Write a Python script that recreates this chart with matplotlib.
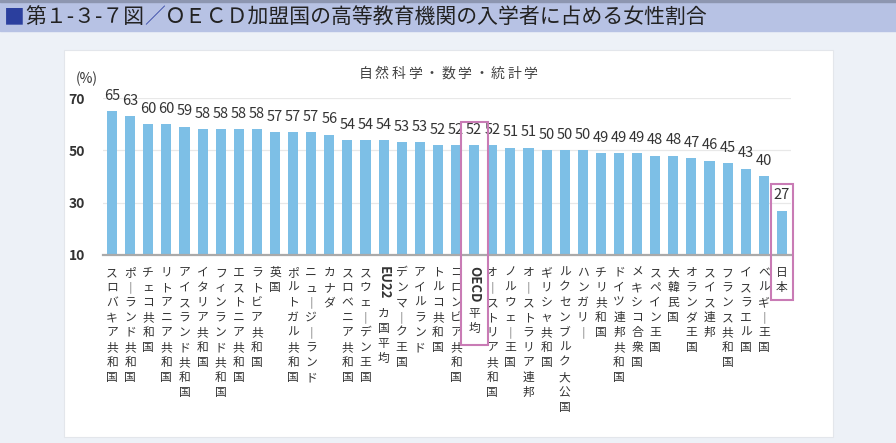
"""OECD加盟国の高等教育機関の入学者に占める女性割合（自然科学・数学・統計学）."""
import numpy as np
import matplotlib
matplotlib.use('Agg')
import matplotlib.pyplot as plt
from matplotlib.patches import Rectangle

plt.rcParams['font.family'] = ['Noto Sans CJK JP', 'DejaVu Sans']

countries = ['スロバキア共和国', 'ポーランド共和国', 'チェコ共和国', 'リトアニア共和国',
             'アイスランド共和国', 'イタリア共和国', 'フィンランド共和国', 'エストニア共和国',
             'ラトビア共和国', '英国', 'ポルトガル共和国', 'ニュージーランド', 'カナダ',
             'スロベニア共和国', 'スウェーデン王国', 'EU22カ国平均', 'デンマーク王国',
             'アイルランド', 'トルコ共和国', 'コロンビア共和国', 'OECD平均',
             'オーストリア共和国', 'ノルウェー王国', 'オーストラリア連邦', 'ギリシャ共和国',
             'ルクセンブルク大公国', 'ハンガリー', 'チリ共和国', 'ドイツ連邦共和国',
             'メキシコ合衆国', 'スペイン王国', '大韓民国', 'オランダ王国', 'スイス連邦',
             'フランス共和国', 'イスラエル国', 'ベルギー王国', '日本']
values = [65, 63, 60, 60, 59, 58, 58, 58, 58, 57, 57, 57, 56, 54, 54, 54, 53, 53, 52,
          52, 52, 52, 51, 51, 50, 50, 50, 49, 49, 49, 48, 48, 47, 46, 45, 43, 40, 27]
highlight = ['OECD平均', '日本']
yticks = [10, 30, 50, 70]

TITLE = '第１-３-７図'
TITLE_REST = 'ＯＥＣＤ加盟国の高等教育機関の入学者に占める女性割合'
SUBTITLE = '自然科学・数学・統計学'

W, H = 896, 443
BAR_COLOR = '#7dbfe6'
PINK = '#c97bb5'
TEXT = '#333333'

fig = plt.figure(figsize=(W / 100, H / 100), dpi=100)
fig.patch.set_facecolor('#edf1f7')

# background layer in pixel coordinates
bg = fig.add_axes([0, 0, 1, 1])
bg.set_xlim(0, W)
bg.set_ylim(H, 0)
bg.axis('off')
bg.add_patch(Rectangle((0, 0), W, 31, color='#b7c2e4'))
bg.add_patch(Rectangle((0, 0), W, 1.5, color='#8d96b0'))
bg.add_patch(Rectangle((64, 50), 769, 387, facecolor='white', edgecolor='#e3e6eb', lw=0.8))

# header title
sq = bg.text(4, 17, '■', fontsize=15, color='#2b3f9e', va='center', ha='left')
t1 = bg.annotate(TITLE, xy=(1, 0.5), xycoords=sq, va='center', ha='left',
                 fontsize=15, color='#222222')
t2 = bg.annotate('／', xy=(1, 0.5), xycoords=t1, va='center', ha='left',
                 fontsize=15, color='#3a4ba8')
bg.annotate(TITLE_REST, xy=(1, 0.5), xycoords=t2, va='center', ha='left',
            fontsize=15, color='#222222')

# subtitle with spaced characters
pitch = 16.5
x0 = 448 - pitch * (len(SUBTITLE) - 1) / 2
for k, ch in enumerate(SUBTITLE):
    bg.text(x0 + k * pitch, 74, ch, fontsize=10, color='#444444', ha='center', va='center')
bg.text(87, 79, '(%)', fontsize=10, color=TEXT, ha='center', va='center')

# chart
ax = fig.add_axes([103 / W, (H - 255) / H, (791 - 103) / W, (255 - 98) / H])
ax.set_facecolor('none')
x = np.arange(len(values))
ax.bar(x, values, width=0.56, color=BAR_COLOR, zorder=2)
ax.set_xlim(-0.5, len(values) - 0.5)
ax.set_ylim(10, 70)
ax.set_yticks(yticks)
ax.set_yticklabels([str(v) for v in yticks], fontsize=10, fontweight='bold', color=TEXT)
ax.tick_params(axis='y', length=0, pad=13)
ax.set_xticks([])
ax.grid(axis='y', color='#e8e8e8', lw=0.9, zorder=0)
for s in ['top', 'right', 'left']:
    ax.spines[s].set_visible(False)
ax.spines['bottom'].set_color('#aaaaaa')
ax.spines['bottom'].set_linewidth(1.6)
ax.spines['bottom'].set_zorder(3)

for i, v in enumerate(values):
    ax.annotate(str(v), xy=(i, v), xytext=(0, 6), textcoords='offset points',
                ha='center', va='bottom', fontsize=10.5, color=TEXT, annotation_clip=False)

# vertical labels
char_pt = 15 * 72 / 100
start_pt = 11 * 72 / 100
for i, name in enumerate(countries):
    k = 0.0
    j = 0
    ascii_run = ''
    while j < len(name) and name[j].isascii():
        ascii_run += name[j]
        j += 1
    if ascii_run:
        ax.annotate(ascii_run, xy=(i, 0), xycoords=('data', 'axes fraction'),
                    xytext=(0, -start_pt), textcoords='offset points',
                    ha='center', va='top', rotation=270, fontsize=9.5,
                    fontweight='bold', color=TEXT, annotation_clip=False)
        k = len(ascii_run) * 0.65 + 0.15
    for ch in name[j:]:
        ch = '｜' if ch == 'ー' else ch
        ax.annotate(ch, xy=(i, 0), xycoords=('data', 'axes fraction'),
                    xytext=(0, -start_pt - k * char_pt), textcoords='offset points',
                    ha='center', va='top', fontsize=8.5, color=TEXT, annotation_clip=False)
        k += 1

# highlight boxes around OECD average and Japan
px_per_unit = (255 - 98) / 60
box_pad_top = [23, 27]
box_pad_bottom = [8, 4]
for name, pad_top, pad_bot in zip(highlight, box_pad_top, box_pad_bottom):
    i = countries.index(name)
    v = values[i]
    n_rows = len(name) if not name[0].isascii() else 4.75
    top = v + pad_top / px_per_unit
    bottom = 10 - (11 + 15 * n_rows + pad_bot) / px_per_unit
    half = 0.75 if n_rows > 3 else 0.62
    ax.add_patch(Rectangle((i - half, bottom), 2 * half, top - bottom, fill=False,
                           edgecolor=PINK, lw=1.5, clip_on=False, zorder=4))

fig.savefig('out.png', dpi=100, facecolor=fig.get_facecolor())
